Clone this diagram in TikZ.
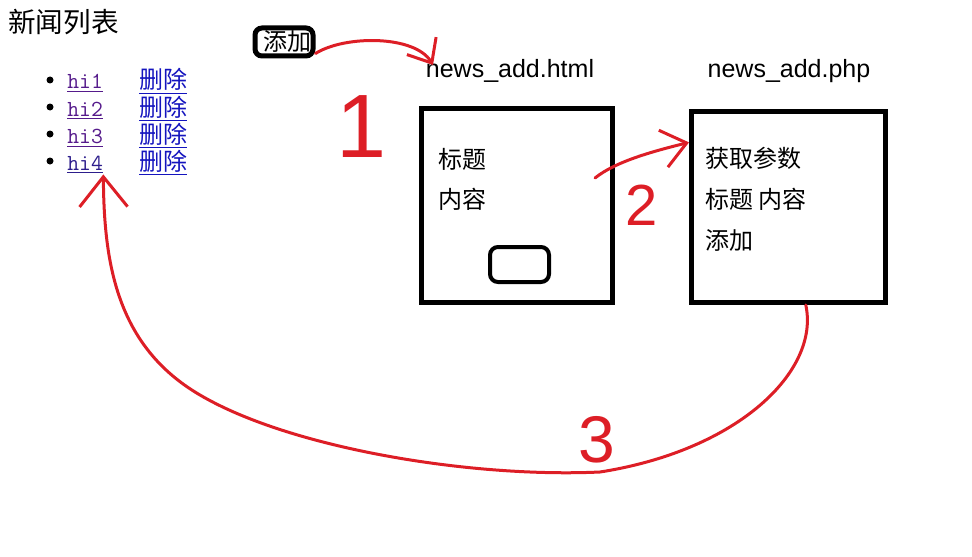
\documentclass[tikz,border=0pt]{standalone}
\usepackage{fontspec}
\usepackage{xcolor}
\usepackage{tikz}
\usetikzlibrary{arrows.meta}
\newfontfamily\cjkfont{Noto Sans CJK SC}
\newfontfamily\labelfont{Liberation Sans}
\definecolor{penred}{RGB}{221,30,38}
\definecolor{visited}{RGB}{85,26,139}
\definecolor{hoverlink}{RGB}{45,30,140}
\definecolor{linkblue}{RGB}{20,20,190}

\begin{document}
\begin{tikzpicture}[x=0.5pt, y=-0.5pt,
  redpen/.style={draw=penred, line width=1.5pt, line cap=round, line join=round},
  frame/.style={draw, line width=2.5pt, minimum width=95.5pt, minimum height=97pt, inner sep=0pt},
  btn/.style={draw, line width=2pt, rounded corners=3.5pt, inner sep=0pt},
  txt/.style={anchor=west, inner sep=0pt, font={\cjkfont\fontsize{12}{14}\selectfont}},
  link/.style={anchor=base west, inner sep=0pt},
  listdot/.style={circle, fill, minimum size=3.5pt, inner sep=0pt},
  digit/.style={anchor=base, inner sep=0pt, text=penred}]
  \useasboundingbox (0,0) rectangle (972,556);
  % Define coordinates
  \path
    (433,65) coordinate (t1)
    (595,178) coordinate (s2)
  ;
  % news list page
  \node[anchor=west, inner sep=0pt, font={\cjkfont\fontsize{13.8}{16}\selectfont}] (title) at (8,22) {新闻列表};
  \foreach \i/\col in {1/visited,2/visited,3/visited,4/hoverlink}{
    \pgfmathsetmacro\rowy{62+27*\i}
    \node[listdot] (dot\i) at (50,\rowy-9) {};
    \node[link, text=\col, font={\ttfamily\fontsize{11.5}{13}\selectfont}] (hi\i) at (67,\rowy) {\underline{hi\i}};
    \node[link, text=linkblue, font={\cjkfont\fontsize{12}{14}\selectfont}] (del\i) at (139,\rowy) {\underline{删除}};
  }
  \node[btn, line width=2.5pt, minimum width=29pt, minimum height=14pt, font={\cjkfont\fontsize{12}{14}\selectfont}] (addbtn) at (284,42) {\hspace*{3pt}添加};
  % the two pages
  \node[anchor=base, font={\labelfont\fontsize{12.5}{15}\selectfont}] (htmllabel) at (510,77) {news\_add.html};
  \node[anchor=base, font={\labelfont\fontsize{12.5}{15}\selectfont}] (phplabel) at (789,77) {news\_add.php};
  \node[frame] (htmlbox) at (517,205.5) {};
  \node[frame, minimum width=97pt, minimum height=95.5pt] (phpbox) at (788.5,207) {};
  \node[txt] (heading) at (438,159) {标题};
  \node[txt] (content) at (438,199) {内容};
  \node[btn, minimum width=29.5pt, minimum height=17.5pt, rounded corners=4pt] (sendbtn) at (519.5,264.5) {};
  \node[txt] (getparams) at (705,158) {获取参数};
  \node[txt] (fields) at (705,199) {标题 内容};
  \node[txt] (doadd) at (705,240) {添加};
  % red steps
  \draw[redpen, -{Straight Barb[length=10pt, width=17pt]}] (addbtn.-20) .. controls (345,35) and (415,35) .. (t1);
  \draw[redpen, -{Straight Barb[length=12pt, width=19pt]}] (s2) .. controls (615,162) and (650,152) .. (phpbox.147);
  \draw[redpen, -{Straight Barb[length=15pt, width=24pt]}] (phpbox.-80) .. controls (820,370) and (740,450) .. (600,472)
    .. controls (470,478) and (290,448) .. (200,395)
    .. controls (116,346) and (104,262) .. (hi4.south east);
  \node[digit, font={\labelfont\fontsize{45}{50}\selectfont}] (one) at (362,157) {1};
  \node[digit, font={\labelfont\fontsize{29}{32}\selectfont}] (two) at (642,225) {2};
  \node[digit, font={\labelfont\fontsize{33}{36}\selectfont}] (three) at (597,462) {3};
\end{tikzpicture}
\end{document}
